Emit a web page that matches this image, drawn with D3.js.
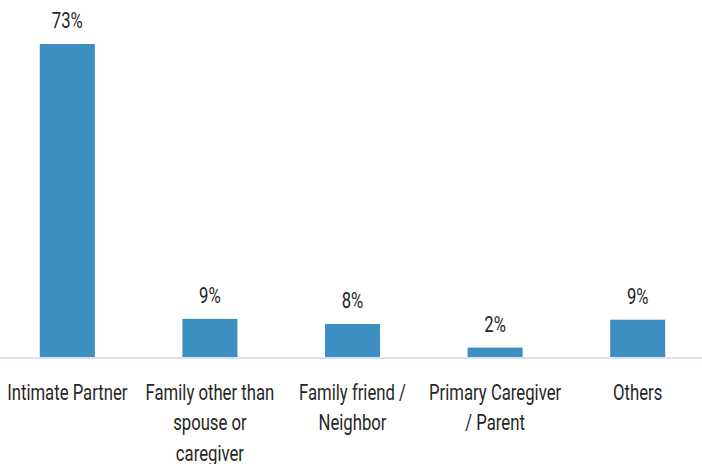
<!DOCTYPE html>
<html>
<head>
<meta charset="utf-8">
<script src="https://cdn.jsdelivr.net/npm/d3@7"></script>
<style>
  body { margin: 0; background: #fff; }
  text { font-family: Roboto, "Noto Sans", sans-serif; fill: #262626; }
</style>
</head>
<body>
<div id="chart"></div>
<script>
var width = 702, height = 464;

// data
var categories = ["Intimate Partner", "Family other than spouse or caregiver", "Family friend / Neighbor", "Primary Caregiver / Parent", "Others"];
var values = [73, 8.9, 7.7, 2.2, 8.7];
var tickLabels = [
  ["Intimate Partner"],
  ["Family other than", "spouse or", "caregiver"],
  ["Family friend /", "Neighbor"],
  ["Primary Caregiver", "/ Parent"],
  ["Others"]
];

var baseline = 357;

var svg = d3.select("#chart")
            .append("svg")
            .attr("width", width)
            .attr("height", height);

var x = d3.scaleBand()
          .domain(categories)
          .range([-4, 709])
          .paddingInner(0.614)
          .paddingOuter(0.307);

var y = d3.scaleLinear()
          .domain([0, 73])
          .range([baseline, 44]);

// bars
svg.selectAll(".bar")
   .data(categories)
   .enter()
   .append("rect")
   .attr("class", "bar")
   .attr("x", function(d) { return x(d); })
   .attr("width", x.bandwidth())
   .attr("y", function(d, i) { return y(values[i]); })
   .attr("height", function(d, i) { return baseline - y(values[i]); })
   .attr("fill", "#3e8fc2");

// value labels
svg.selectAll(".val")
   .data(categories)
   .enter()
   .append("text")
   .attr("class", "val")
   .attr("transform", function(d, i) {
       return "translate(" + (x(d) + x.bandwidth() / 2) + "," + (y(values[i]) - 16) + ") scale(0.76,1)";
   })
   .attr("text-anchor", "middle")
   .style("font-size", "22px")
   .text(function(d, i) { return Math.round(values[i]) + "%"; });

// x axis
var xAxis = svg.append("g")
   .attr("transform", "translate(0," + (baseline + 1) + ")")
   .call(d3.axisBottom(x).tickSize(0).tickFormat(""));

xAxis.select(".domain")
     .attr("d", "M0,0H" + width)
     .attr("stroke", "#d9e1f2")
     .attr("stroke-width", 2);

// category labels
svg.selectAll(".cat")
   .data(categories)
   .enter()
   .append("text")
   .attr("class", "cat")
   .attr("transform", function(d) {
       return "translate(" + (x(d) + x.bandwidth() / 2) + "," + 400 + ") scale(0.76,1)";
   })
   .attr("text-anchor", "middle")
   .style("font-size", "22px")
   .each(function(d, i) {
       var t = d3.select(this);
       tickLabels[i].forEach(function(line, j) {
           t.append("tspan")
            .attr("x", 0)
            .attr("y", j * 30.5)
            .text(line);
       });
   });
</script>
</body>
</html>
